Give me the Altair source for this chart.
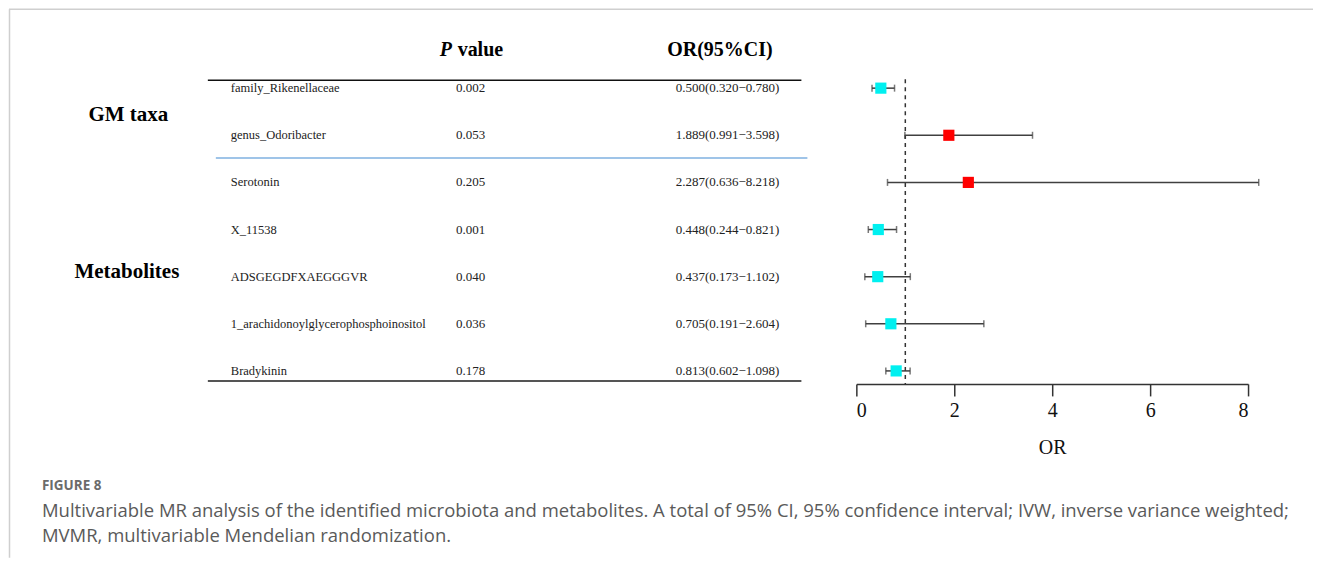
import altair as alt
import pandas as pd

# ---- data ----
labels = ["family_Rikenellaceae", "genus_Odoribacter", "Serotonin", "X_11538",
          "ADSGEGDFXAEGGGVR", "1_arachidonoylglycerophosphoinositol", "Bradykinin"]
p_values = ["0.002", "0.053", "0.205", "0.001", "0.040", "0.036", "0.178"]
or_est = [0.500, 1.889, 2.287, 0.448, 0.437, 0.705, 0.813]
ci_low = [0.320, 0.991, 0.636, 0.244, 0.173, 0.191, 0.602]
ci_high = [0.780, 3.598, 8.218, 0.821, 1.102, 2.604, 1.098]
groups = ["GM taxa", "Metabolites"]
x_ticks = [0, 2, 4, 6, 8]
header_p = ["P", "value"]
header_or = "OR(95%CI)"
caption_head = "FIGURE 8"
caption_lines = [
    "Multivariable MR analysis of the identified microbiota and metabolites. A total of 95% CI, 95% confidence interval; IVW, inverse variance weighted;",
    "MVMR, multivariable Mendelian randomization.",
]

df = pd.DataFrame({"label": labels, "p": p_values, "or": or_est, "lo": ci_low, "hi": ci_high})
df["idx"] = list(range(len(df)))
df["ci"] = [f"{o:.3f}({l:.3f}\u2212{h:.3f})" for o, l, h in zip(or_est, ci_low, ci_high)]
df["dir"] = ["risk" if o > 1 else "protective" for o in or_est]

one = pd.DataFrame({"k": [0]})

H = 375
TW = 822
FW = 392
SERIF = "Liberation Serif"
SANS = "Open Sans"

yscale = alt.Scale(domain=[-1.675, 6.276], reverse=True, nice=False, zero=False)
Y = alt.Y("idx:Q", scale=yscale, axis=None)


def text_layer(t, x, y, align="left", **kw):
    return alt.Chart(pd.DataFrame({"t": [t]})).mark_text(align=align, baseline="middle", **kw).encode(
        x=alt.value(x), y=alt.value(y), text="t:N")


# ---- table panel ----
base = alt.Chart(df)
lab = base.mark_text(align="left", baseline="middle", font=SERIF, fontSize=12.5, color="#222").encode(
    x=alt.value(223), y=Y, text="label:N")
pv = base.mark_text(align="center", baseline="middle", font=SERIF, fontSize=13, color="#222").encode(
    x=alt.value(463), y=Y, text="p:N")
ci = base.mark_text(align="right", baseline="middle", font=SERIF, fontSize=13, color="#222").encode(
    x=alt.value(772), y=Y, text="ci:N")

hp1 = text_layer(header_p[0], 432, 41, font=SERIF, fontSize=20, fontWeight="bold", fontStyle="italic", color="#000")
hp2 = text_layer(header_p[1], 450, 41, font=SERIF, fontSize=20, fontWeight="bold", color="#000")
hor = text_layer(header_or, 712.5, 41, align="center", font=SERIF, fontSize=20, fontWeight="bold", color="#000")
g1 = text_layer(groups[0], 120.5, 106, align="center", font=SERIF, fontSize=21, fontWeight="bold", color="#000")
g2 = text_layer(groups[1], 119, 263, align="center", font=SERIF, fontSize=21, fontWeight="bold", color="#000")

r_top = alt.Chart(one).mark_rule(color="#111", strokeWidth=1.5).encode(
    x=alt.value(200), x2=alt.value(794), y=alt.value(71))
r_mid = alt.Chart(one).mark_rule(color="#7FB0E0", strokeWidth=1.5).encode(
    x=alt.value(208), x2=alt.value(800), y=alt.value(149))
r_bot = alt.Chart(one).mark_rule(color="#555", strokeWidth=2).encode(
    x=alt.value(200), x2=alt.value(794), y=alt.value(372))

frame_top = alt.Chart(one).mark_rule(color="#cfcfcf", strokeWidth=1.5).encode(
    x=alt.value(1), x2=alt.value(1306), y=alt.value(0))
frame_left = alt.Chart(one).mark_rule(color="#cfcfcf", strokeWidth=1.5).encode(
    x=alt.value(1.5), y=alt.value(0), y2=alt.value(549))

# caption (placed below the table, outside the plot area)
ch = text_layer(caption_head, 34, 477, font=SANS, fontSize=13.5, fontWeight="bold", color="#6b6b6b")
cl1 = text_layer(caption_lines[0], 34, 502, font=SANS, fontSize=18.5, color="#5a5a5a")
cl2 = text_layer(caption_lines[1], 34, 527, font=SANS, fontSize=18.5, color="#5a5a5a")

table = alt.layer(frame_top, frame_left, r_top, r_mid, r_bot, hp1, hp2, hor, g1, g2, lab, pv, ci,
                  ch, cl1, cl2).properties(width=TW, height=H)

# ---- forest panel ----
xscale = alt.Scale(domain=[0, 8], nice=False, zero=False)
xaxis = alt.Axis(values=x_ticks, title="OR", grid=False, domainColor="#333", domainWidth=1.5,
                 tickColor="#333", tickWidth=1.5, tickSize=12, labelFont=SERIF, labelFontSize=20,
                 labelColor="#111", labelPadding=5, titleFont=SERIF, titleFontSize=20,
                 titleFontWeight="normal", titleColor="#111", titlePadding=17, format="d")

fbase = alt.Chart(df)
whisk = fbase.mark_rule(color="#404040", strokeWidth=1.5).encode(
    x=alt.X("lo:Q", scale=xscale, axis=xaxis), x2="hi:Q", y=Y)
cap_l = fbase.mark_tick(orient="vertical", size=7, thickness=1.5, color="#404040").encode(
    x=alt.X("lo:Q", scale=xscale), y=Y)
cap_r = fbase.mark_tick(orient="vertical", size=7, thickness=1.5, color="#404040").encode(
    x=alt.X("hi:Q", scale=xscale), y=Y)
sq = fbase.mark_square(size=125, filled=True, opacity=1).encode(
    x=alt.X("or:Q", scale=xscale),
    y=Y,
    color=alt.Color("dir:N", scale=alt.Scale(domain=["protective", "risk"], range=["#00F0F0", "#FF0000"]),
                    legend=None))
ref = alt.Chart(one).mark_rule(color="#333", strokeWidth=1.5, strokeDash=[4, 4]).encode(
    x=alt.datum(1), y=alt.value(70), y2=alt.value(H))

forest = alt.layer(ref, whisk, cap_l, cap_r, sq).properties(width=FW, height=H)

chart = alt.hconcat(table, forest, spacing=27, bounds="flush").properties(
    padding=0, background="white"
).configure_view(stroke=None)

chart.save("out.html", embed_options={"renderer": "svg", "actions": False})
